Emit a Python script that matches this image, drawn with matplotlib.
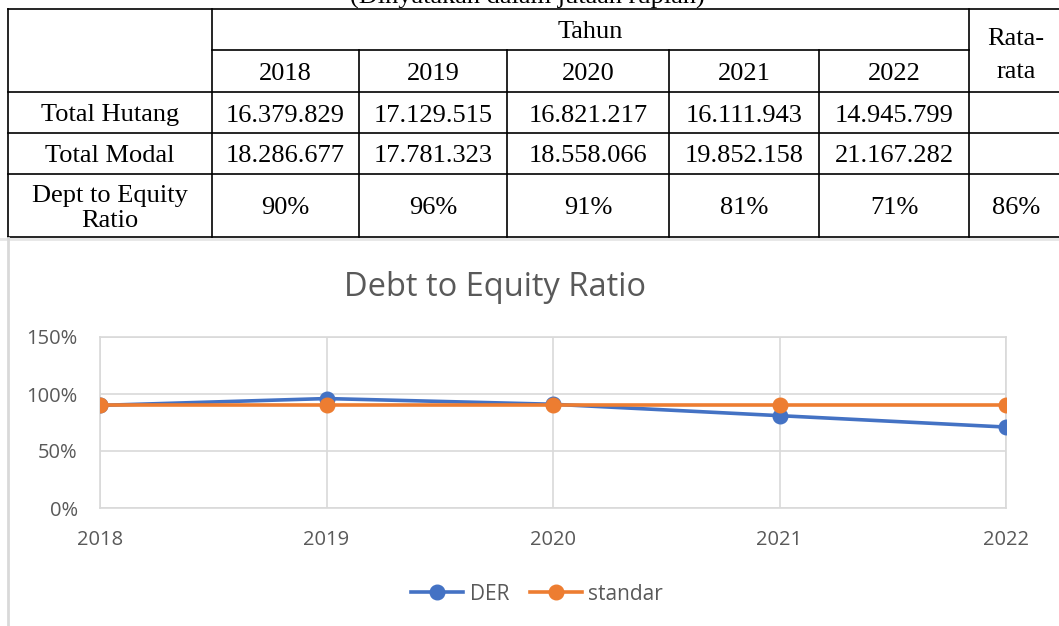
import matplotlib
import matplotlib.pyplot as plt

matplotlib.use('Agg')

# table data
years = ['2018', '2019', '2020', '2021', '2022']
total_hutang = ['16.379.829', '17.129.515', '16.821.217', '16.111.943', '14.945.799']
total_modal = ['18.286.677', '17.781.323', '18.558.066', '19.852.158', '21.167.282']
der_text = ['90%', '96%', '91%', '81%', '71%']
rata_rata = '86%'
row_labels = ['Total Hutang', 'Total Modal', 'Dept to Equity\nRatio']

# chart data
der = [0.90, 0.96, 0.91, 0.81, 0.71]
standar = [0.90, 0.90, 0.90, 0.90, 0.90]

W, H = 1059, 626
fig = plt.figure(figsize=(W / 100, H / 100), dpi=100)

# overlay in pixel coordinates for the document table
ov = fig.add_axes([0, 0, 1, 1])
ov.set_xlim(0, W)
ov.set_ylim(H, 0)
ov.axis('off')

serif = 'Liberation Serif'
fs = 19
col_x = [8, 212, 359, 507, 669, 819, 969, 1062]
row_y = [9, 50, 92, 133, 174, 237]
dy = 3  # shift text down a bit, va='center' sits high

ov.text(527, 3.5, '(Dinyatakan dalam jutaan rupiah)', family=serif, fontsize=fs,
        ha='center', va='baseline')

lw = 1.2
# horizontal lines
ov.plot([col_x[0], W], [row_y[0]] * 2, color='black', lw=lw)
ov.plot([col_x[1], col_x[6]], [row_y[1]] * 2, color='black', lw=lw)
for y in row_y[2:]:
    ov.plot([col_x[0], W], [y, y], color='black', lw=lw)
# vertical lines
ov.plot([col_x[0]] * 2, [row_y[0], row_y[-1]], color='black', lw=lw)
ov.plot([col_x[1]] * 2, [row_y[0], row_y[-1]], color='black', lw=lw)
for x in col_x[2:6]:
    ov.plot([x, x], [row_y[1], row_y[-1]], color='black', lw=lw)
ov.plot([col_x[6]] * 2, [row_y[0], row_y[-1]], color='black', lw=lw)


def cx(i):
    return (col_x[i] + col_x[i + 1]) / 2


def cy(j):
    return (row_y[j] + row_y[j + 1]) / 2 + dy


ov.text((col_x[1] + col_x[6]) / 2, cy(0), 'Tahun', family=serif, fontsize=fs, ha='center', va='center')
ov.text(1016, 39, 'Rata-', family=serif, fontsize=fs, ha='center', va='center')
ov.text(1016, 72, 'rata', family=serif, fontsize=fs, ha='center', va='center')
for i, yr in enumerate(years):
    ov.text(cx(i + 1), cy(1), yr, family=serif, fontsize=fs, ha='center', va='center')
for j, lab in enumerate(row_labels):
    ov.text(cx(0), cy(j + 2), lab, family=serif, fontsize=fs, ha='center', va='center',
            linespacing=1.2)
for i in range(5):
    ov.text(cx(i + 1), cy(2), total_hutang[i], family=serif, fontsize=fs, ha='center', va='center')
    ov.text(cx(i + 1), cy(3), total_modal[i], family=serif, fontsize=fs, ha='center', va='center')
    ov.text(cx(i + 1), cy(4), der_text[i], family=serif, fontsize=fs, ha='center', va='center')
ov.text(1016, cy(4), rata_rata, family=serif, fontsize=fs, ha='center', va='center')

# chart frame (light gray)
ov.plot([0, W], [238.5, 238.5], color='#e6e6e6', lw=2)
ov.plot([7.5, 7.5], [238, H], color='#d9d9d9', lw=2)

# chart
gray = '#595959'
grid = '#d9d9d9'
ax = fig.add_axes([100 / W, (H - 508) / H, 906 / W, 171 / H])
x = list(range(len(years)))
ax.plot(x, der, color='#4472C4', lw=2.6, marker='o', ms=10.5, label='DER', zorder=3)
ax.plot(x, standar, color='#ED7D31', lw=2.6, marker='o', ms=10.5, label='standar', zorder=4)
ax.set_xlim(0, 4)
ax.set_ylim(0, 1.5)
ax.set_yticks([0, 0.5, 1.0, 1.5])
ax.set_yticklabels(['0%', '50%', '100%', '150%'])
ax.set_xticks(x)
ax.set_xticklabels(years)
ax.grid(True, color=grid, lw=1.2)
for s in ax.spines.values():
    s.set_color(grid)
    s.set_linewidth(1.2)
ax.tick_params(length=0, labelsize=14.5, labelcolor=gray)
ax.tick_params(axis='y', pad=16)
ax.tick_params(axis='x', pad=16)
for t in ax.get_xticklabels() + ax.get_yticklabels():
    t.set_family('Open Sans')
ax.set_axisbelow(True)
for spine in ax.spines.values():
    spine.set_clip_on(False)

fig.text(495 / W, 1 - 287 / H, 'Debt to Equity Ratio', family='Open Sans', fontsize=23.5,
         color=gray, ha='center', va='center')

leg = fig.legend(loc='center', bbox_to_anchor=(537 / W, 1 - 594 / H), ncol=2, frameon=False,
                 prop={'family': 'Open Sans', 'size': 15}, handlelength=2.5,
                 columnspacing=1.0, handletextpad=0.3)
for t in leg.get_texts():
    t.set_color(gray)

fig.savefig('out.png', dpi=100)
plt.close()
